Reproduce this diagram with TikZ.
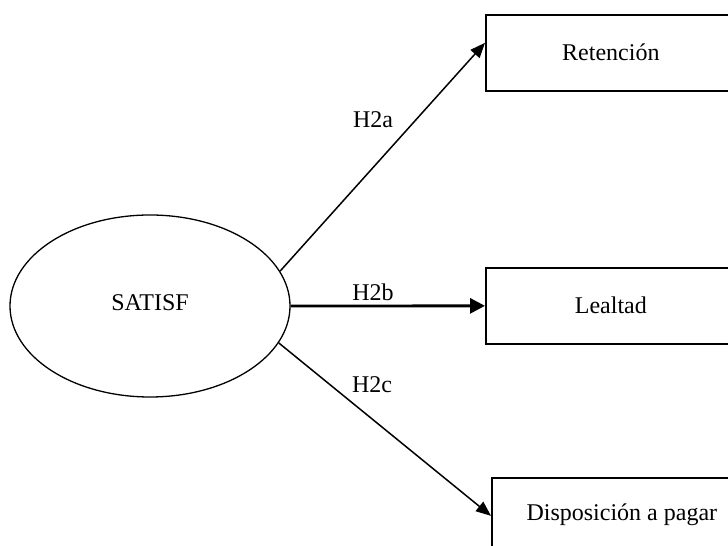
\documentclass[tikz,border=0pt]{standalone}
\usepackage{fontspec}
\setmainfont{Liberation Serif}
\usetikzlibrary{shapes.geometric,arrows.meta,calc}

\begin{document}
\begin{tikzpicture}[x=1bp,y=1bp,
  every node/.style={font=\fontsize{24bp}{28bp}\selectfont},
  construct/.style={draw,line width=1.7bp,rectangle,inner sep=0pt,anchor=north west},
  latent/.style={draw,line width=1.3bp,ellipse,inner sep=0pt,minimum width=280bp,minimum height=182bp},
  path/.style={line width=1.5bp,-{Triangle[length=15bp,width=12bp]}},
  mainpath/.style={line width=2.8bp,-{Triangle[length=15bp,width=15bp]}},
  hyp/.style={inner sep=0pt}
]
\useasboundingbox (0,0) rectangle (728,546);
\clip (0,0) rectangle (728,546);

% latent construct
\node[latent] (sat) at (150,240) {\raisebox{6bp}{SATISF}};

% outcome boxes (right sides run past the frame)
\node[construct,minimum width=250bp,minimum height=76bp] (rt) at (485,532) {};
\node at ($(rt.center)+(0,1)$) (rtlab) {Retención};
\node[construct,minimum width=250bp,minimum height=76bp] (lt) at (485,279) {};
\node at ($(lt.center)+(0,1)$) (ltlab) {Lealtad};
\node[construct,minimum width=260bp,minimum height=76bp] (dp) at (491,69) {};
\node at ($(dp.center)+(0,1)$) (dplab) {Disposición a pagar};

% hypothesised paths
\coordinate (rtin) at ($(rt.west)+(0,10)$);
\draw[path] (sat.15) -- (rtin);
\draw[mainpath] (sat.east) -- (lt.west);
\draw[path] (sat.-16) -- (dp.west);

% path labels
\node[hyp] (h2a) at (373,426) {H2a};
\node[hyp] (h2b) at (373,254) {H2b};
\node[hyp] (h2c) at (372,161) {H2c};
\end{tikzpicture}
\end{document}
